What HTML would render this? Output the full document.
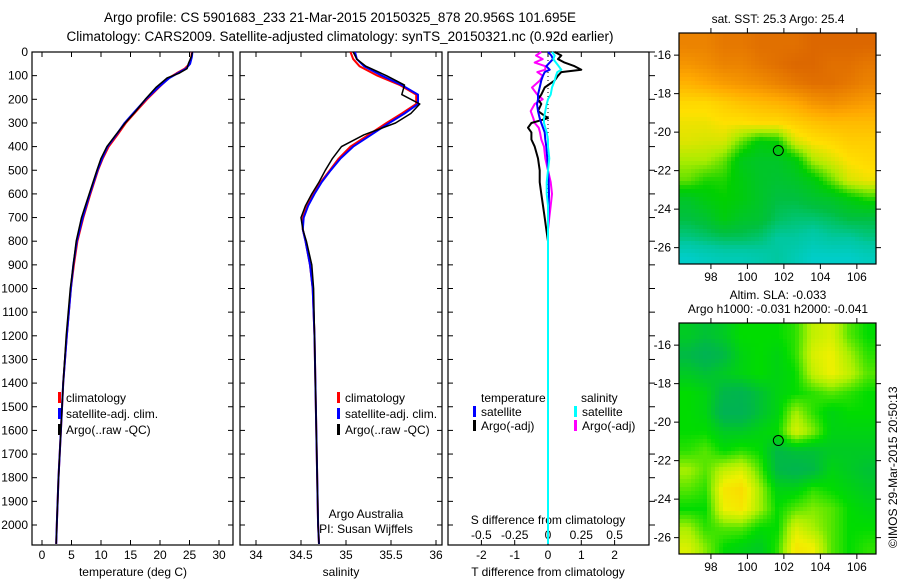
<!DOCTYPE html>
<html><head><meta charset="utf-8"><style>
body{margin:0;background:#fff}
svg{display:block;font-family:"Liberation Sans",sans-serif;font-size:12px}
</style></head><body>
<svg id="fig" width="900" height="580" viewBox="0 0 900 580">
<rect width="900" height="580" fill="#fff"/>
<text x="340" y="22" text-anchor="middle" font-size="13.5">Argo profile: CS 5901683_233 21-Mar-2015 20150325_878 20.956S 101.695E</text>
<text x="340" y="41" text-anchor="middle" font-size="13.5">Climatology: CARS2009. Satellite-adjusted climatology: synTS_20150321.nc (0.92d earlier)</text>
<g id="g"></g>
<text transform="translate(897,548) rotate(-90)" font-size="12">©IMOS 29-Mar-2015 20:50:13</text>
</svg>
<script>
// ---------- data ----------
const tDepth = [0,20,50,70,90,110,150,200,250,300,350,400,450,500,600,700,800,900,1000,1200,1400,1600,1800,2000,2080];
const tClim  = [25.4,25.3,25.0,24.2,22.8,21.5,19.8,17.8,16.0,14.2,12.8,11.3,10.3,9.5,8.2,7.0,6.0,5.4,4.9,4.2,3.6,3.2,2.8,2.5,2.4];
const tSat   = [25.5,25.4,25.1,24.4,23.0,21.6,19.7,17.6,15.8,14.0,12.6,11.1,10.2,9.4,8.1,6.9,5.9,5.3,4.9,4.2,3.6,3.2,2.8,2.5,2.4];
const tArgo  = [25.5,25.3,24.8,24.6,23.2,21.2,19.3,17.5,15.9,14.1,12.5,11.0,10.0,9.3,8.0,6.7,5.8,5.3,4.8,4.1,3.6,3.2,2.8,2.5,2.4];
const sDepth = [0,30,60,100,140,180,220,260,300,350,400,450,500,550,600,650,700,750,800,900,1000,1200,1400,1600,1800,2000,2080];
const sClim  = [35.05,35.08,35.15,35.35,35.6,35.78,35.78,35.62,35.45,35.25,35.05,34.92,34.82,34.72,34.64,34.57,34.52,34.52,34.55,34.6,34.63,34.65,34.66,34.67,34.68,34.69,34.70];
const sSat   = [35.1,35.12,35.2,35.4,35.62,35.8,35.8,35.65,35.48,35.28,35.08,34.94,34.83,34.73,34.65,34.58,34.53,34.52,34.55,34.6,34.63,34.65,34.66,34.67,34.68,34.69,34.70];
const sArgo  = [35.08,35.12,35.22,35.45,35.65,35.62,35.82,35.72,35.55,35.2,34.95,34.85,34.77,34.7,34.62,34.55,34.5,34.52,34.56,34.62,34.64,34.65,34.66,34.67,34.68,34.69,34.70];
const dDepth = [0,15,30,45,60,75,85,100,120,150,180,200,220,250,280,300,320,340,370,400,450,500,550,600,650,700,750,800,900,1100,1400,1700,2000,2080];
const dTArgo = [0.2,0.4,0.3,0.5,0.8,1.0,0.4,0.3,0.2,-0.1,-0.2,-0.3,-0.2,-0.3,0.0,-0.5,-0.6,-0.5,-0.5,-0.4,-0.3,-0.25,-0.25,-0.2,-0.15,-0.1,-0.05,0.0,0.0,0.0,0.0,0.0,0.0,0.0];
const dTSat  = [0.0,0.1,0.15,0.05,-0.05,0.05,-0.1,-0.15,-0.2,-0.25,-0.3,-0.3,-0.33,-0.3,-0.25,-0.2,-0.15,-0.1,-0.08,-0.05,-0.02,0.0,0.02,0.03,0.02,0.01,0.0,0.0,0.0,0.0,0.0,0.0,0.0,0.0];
const dSSat  = [0.03,0.05,0.04,0.06,0.08,0.1,0.07,0.06,0.05,0.03,0.02,0.0,-0.01,-0.02,-0.03,-0.03,-0.02,-0.01,0.0,0.0,0.01,0.0,-0.01,-0.01,0.0,0.0,0.0,0.0,0.0,0.0,0.0,0.0,0.0,0.0];
const dSArgo = [-0.05,-0.09,-0.04,-0.1,-0.02,-0.02,-0.08,-0.04,-0.06,-0.12,-0.08,-0.04,-0.1,-0.13,-0.11,-0.1,-0.07,-0.06,-0.05,-0.03,-0.02,0.0,0.02,0.03,0.02,0.01,0.0,0.0,0.0,0.0,0.0,0.0,0.0,0.0];
const depthTicks = [0,100,200,300,400,500,600,700,800,900,1000,1100,1200,1300,1400,1500,1600,1700,1800,1900,2000];
const tTicks = [0,5,10,15,20,25,30];
const sTicks = [34,34.5,35,35.5,36];
const dTTicks = [-2,-1,0,1,2];
const dSTickLabels = ["-0.5","-0.25","0","0.25","0.5"];
const dSTicks = [-0.5,-0.25,0,0.25,0.5];
const lonTicks = [98,100,102,104,106];
const latTicks = [-16,-18,-20,-22,-24,-26];
const sstRows = [
[0.85,0.85,0.88,0.88,0.9,0.9,0.9,0.92,0.92,0.92,0.92],
[0.8,0.82,0.85,0.85,0.88,0.9,0.92,0.92,0.9,0.9,0.88],
[0.72,0.75,0.78,0.8,0.82,0.85,0.88,0.9,0.9,0.88,0.85],
[0.62,0.62,0.65,0.68,0.7,0.72,0.75,0.8,0.82,0.8,0.78],
[0.58,0.58,0.6,0.6,0.62,0.62,0.65,0.68,0.7,0.7,0.7],
[0.56,0.55,0.55,0.45,0.36,0.38,0.55,0.6,0.62,0.65,0.65],
[0.5,0.5,0.45,0.33,0.3,0.3,0.35,0.5,0.55,0.6,0.62],
[0.45,0.4,0.4,0.35,0.3,0.28,0.3,0.35,0.45,0.55,0.58],
[0.3,0.35,0.38,0.35,0.3,0.25,0.25,0.28,0.3,0.35,0.4],
[0.25,0.28,0.35,0.3,0.28,0.22,0.2,0.2,0.22,0.25,0.25],
[0.18,0.2,0.22,0.22,0.2,0.15,0.15,0.12,0.15,0.15,0.18],
[0.05,0.08,0.1,0.1,0.12,0.15,0.1,0.05,0.05,0.05,0.08]];
const slaRows = [
[0.4,0.35,0.4,0.5,0.5,0.5,0.55,0.75,0.8,0.6,0.5],
[0.3,0.22,0.3,0.45,0.5,0.45,0.55,0.8,0.85,0.7,0.55],
[0.4,0.35,0.4,0.45,0.5,0.45,0.5,0.75,0.85,0.75,0.6],
[0.5,0.45,0.28,0.25,0.35,0.45,0.5,0.55,0.6,0.55,0.5],
[0.5,0.45,0.22,0.22,0.35,0.45,0.7,0.55,0.45,0.5,0.5],
[0.5,0.5,0.4,0.4,0.45,0.5,0.8,0.65,0.45,0.45,0.45],
[0.55,0.6,0.5,0.55,0.5,0.3,0.35,0.35,0.4,0.4,0.4],
[0.7,0.6,0.75,0.8,0.6,0.3,0.25,0.3,0.45,0.4,0.35],
[0.6,0.55,0.9,0.95,0.7,0.45,0.45,0.55,0.5,0.45,0.4],
[0.5,0.5,0.85,0.9,0.7,0.5,0.6,0.65,0.6,0.5,0.45],
[0.7,0.55,0.6,0.6,0.5,0.5,0.8,0.7,0.6,0.5,0.5],
[0.8,0.65,0.5,0.45,0.4,0.55,0.9,0.85,0.6,0.5,0.55]];
const argoLon = 101.695, argoLat = -20.956;

// ---------- drawing ----------
const NS="http://www.w3.org/2000/svg";
const G=document.getElementById('g');
function el(tag,attrs,parent){const e=document.createElementNS(NS,tag);for(const k in attrs)e.setAttribute(k,attrs[k]);(parent||G).appendChild(e);return e;}
function txt(s,x,y,anchor,name,parent){const t=el('text',{x:x,y:y,'text-anchor':anchor||'start'},parent);t.textContent=s;


return t;}
const yTop=52, yBot=545;
const yD=d=>yTop+d*(525-52)/2000;
const panels=[{x0:32,x1:233},{x0:240,x1:442},{x0:448,x1:649}];
const xT=v=>42+v*(219-42)/30;
const xS=v=>256+(v-34)*90;
const xDT=v=>548+v*33.3;
const xDS=v=>548+v*133.2;
function line(xs,ds,xf,color,name,w){let d='';for(let i=0;i<xs.length;i++){const y=Math.min(yD(ds[i]),yBot);d+=(i?'L':'M')+xf(xs[i]).toFixed(1)+','+y.toFixed(1);}
const p=el('path',{d:d,fill:'none',stroke:color,'stroke-width':w||2,'stroke-linejoin':'round'});


return p;}
panels.forEach((p,i)=>{
 const r=el('rect',{x:p.x0,y:yTop,width:p.x1-p.x0,height:yBot-yTop,fill:'none',stroke:'#000','stroke-width':1.2});
 
 
 depthTicks.forEach(d=>{el('line',{x1:p.x0,x2:p.x0+5,y1:yD(d),y2:yD(d),stroke:'#000'});el('line',{x1:p.x1,x2:p.x1+(i==2?6:-5),y1:yD(d),y2:yD(d),stroke:'#000'});});
});
depthTicks.forEach(d=>txt(String(d),28,yD(d)+4,'end','depth-tick-label'));
tTicks.forEach(v=>{el('line',{x1:xT(v),x2:xT(v),y1:yBot,y2:yBot-5,stroke:'#000'});el('line',{x1:xT(v),x2:xT(v),y1:yTop,y2:yTop+5,stroke:'#000'});txt(String(v),xT(v),559,'middle','temp-tick-label');});
sTicks.forEach(v=>{el('line',{x1:xS(v),x2:xS(v),y1:yBot,y2:yBot-5,stroke:'#000'});el('line',{x1:xS(v),x2:xS(v),y1:yTop,y2:yTop+5,stroke:'#000'});txt(String(v),xS(v),559,'middle','sal-tick-label');});
dTTicks.forEach(v=>{el('line',{x1:xDT(v),x2:xDT(v),y1:yBot,y2:yBot-5,stroke:'#000'});el('line',{x1:xDT(v),x2:xDT(v),y1:yTop,y2:yTop+5,stroke:'#000'});txt(String(v),xDT(v),559,'middle','tdiff-tick-label');});
dSTicks.forEach((v,i)=>txt(dSTickLabels[i],xDS(v),539,'middle','sdiff-tick-label'));
txt('temperature (deg C)',133,576,'middle','temp-axis-title');
txt('salinity',341,576,'middle','sal-axis-title');
txt('T difference from climatology',548,576,'middle','tdiff-axis-title');
txt('S difference from climatology',548,524,'middle','sdiff-axis-title');
line(tClim,tDepth,xT,'#f00','temp-climatology');
line(tSat,tDepth,xT,'#00f','temp-satellite');
line(tArgo,tDepth,xT,'#000','temp-argo',1.5);
line(sClim,sDepth,xS,'#f00','sal-climatology');
line(sSat,sDepth,xS,'#00f','sal-satellite');
line(sArgo,sDepth,xS,'#000','sal-argo',1.5);
el('line',{x1:548,x2:548,y1:yTop,y2:260,stroke:'#000','stroke-dasharray':'1,3'});
line(dSArgo,dDepth,xDS,'#f0f','sdiff-argo');
line(dTArgo,dDepth,xDT,'#000','tdiff-argo');
line(dTSat,dDepth,xDT,'#00f','tdiff-satellite');
line(dSSat,dDepth,xDS,'#0ff','sdiff-satellite');
function leg(x,y,c,s,name){el('rect',{x:x,y:y-10,width:3,height:11,fill:c});txt(s,x+8,y,'start',name);}
leg(58,402,'#f00','climatology','legend-climatology');leg(58,418,'#00f','satellite-adj. clim.','legend-satellite');leg(58,434,'#000','Argo(..raw -QC)','legend-argo');
leg(337,402,'#f00','climatology','legend-climatology');leg(337,418,'#00f','satellite-adj. clim.','legend-satellite');leg(337,434,'#000','Argo(..raw -QC)','legend-argo');
txt('temperature',481,402,'start','legend-temp-header');txt('salinity',581,402,'start','legend-sal-header');
leg(473,416,'#00f','satellite','legend-tsat');leg(473,430,'#000','Argo(-adj)','legend-targo');
leg(574,416,'#0ff','satellite','legend-ssat');leg(574,430,'#f0f','Argo(-adj)','legend-sargo');
txt('Argo Australia',366,518,'middle','credit-argo-australia');txt('PI: Susan Wijffels',366,533,'middle','credit-pi');
function lerpC(stops,v){v=Math.max(0,Math.min(1,v));for(let i=1;i<stops.length;i++){if(v<=stops[i][0]){const a=stops[i-1],b=stops[i],t=(v-a[0])/(b[0]-a[0]);return 'rgb('+[1,2,3].map(k=>Math.round(a[k]+(b[k]-a[k])*t)).join(',')+')';}}const l=stops[stops.length-1];return 'rgb('+l[1]+','+l[2]+','+l[3]+')';}
const sstCmap=[[0,0,208,220],[0.15,0,200,160],[0.25,0,192,64],[0.38,0,208,0],[0.5,170,236,0],[0.6,255,224,0],[0.75,255,168,0],[0.88,230,120,0],[1,200,70,0]];
const slaCmap=[[0,0,160,120],[0.3,0,185,70],[0.5,0,220,0],[0.7,170,240,0],[0.85,240,240,0],[1,255,210,0]];
const defs=el('defs',{});
function interp(rows,fr,fc){const nr=rows.length,nc=rows[0].length;fr=Math.max(0,Math.min(nr-1,fr));fc=Math.max(0,Math.min(nc-1,fc));
 const r0=Math.floor(fr),c0=Math.floor(fc),r1=Math.min(nr-1,r0+1),c1=Math.min(nc-1,c0+1),tr=fr-r0,tc=fc-c0;
 return (rows[r0][c0]*(1-tc)+rows[r0][c1]*tc)*(1-tr)+(rows[r1][c0]*(1-tc)+rows[r1][c1]*tc)*tr;}
function map(y0,rows,cmap,name,titleLines){
 const x0=679,x1=876,y1=y0+231;
 const lon0=96.25,lon1=107.05,lat0=-14.85,lat1=-26.85;
 const nc=rows[0].length, dlon=(lon1-lon0)/nc;
 const X=l=>x0+(l-lon0)/(lon1-lon0)*(x1-x0), Y=l=>y0+(l-lat0)/(lat1-lat0)*(y1-y0);
 const g=el('g',{});
 
 
 const step=4;
 for(let py=y0;py<y1;py+=step){for(let px=x0;px<x1;px+=step){
  const lon=lon0+(px+step/2-x0)/(x1-x0)*(lon1-lon0), lat=lat0+(py+step/2-y0)/(y1-y0)*(lat1-lat0);
  const fr=(-15.5-lat), fc=(lon-lon0)/dlon-0.5;
  const v=interp(rows,fr,fc);
  const cell=el('rect',{x:px,y:py,width:Math.min(step,x1-px)+0.3,height:Math.min(step,y1-py)+0.3,fill:lerpC(cmap,v)},g);
  
  
 }}
 const m=el('circle',{cx:X(argoLon),cy:Y(argoLat),r:5,fill:'none',stroke:'#000','stroke-width':1});
 
 
 el('rect',{x:x0,y:y0,width:x1-x0,height:y1-y0,fill:'none',stroke:'#000','stroke-width':1.2});
 lonTicks.forEach(l=>{el('line',{x1:X(l),x2:X(l),y1:y0,y2:y0-5,stroke:'#000'});el('line',{x1:X(l),x2:X(l),y1:y1,y2:y1+5,stroke:'#000'});txt(String(l),X(l),y1+17,'middle','lon-tick-label');});
 latTicks.forEach(l=>{el('line',{x1:x0,x2:x0-5,y1:Y(l),y2:Y(l),stroke:'#000'});el('line',{x1:x1,x2:x1+5,y1:Y(l),y2:Y(l),stroke:'#000'});txt(String(l),x0-8,Y(l)+4,'end','lat-tick-label');});
 titleLines.forEach((s,i)=>txt(s,778,y0-(titleLines.length-i)*14+4,'middle',name+'-title'));
}
map(33,sstRows,sstCmap,'sst-map',['sat. SST: 25.3 Argo: 25.4']);
map(323,slaRows,slaCmap,'sla-map',['Altim. SLA: -0.033','Argo h1000: -0.031 h2000: -0.041']);
</script>
</body></html>
